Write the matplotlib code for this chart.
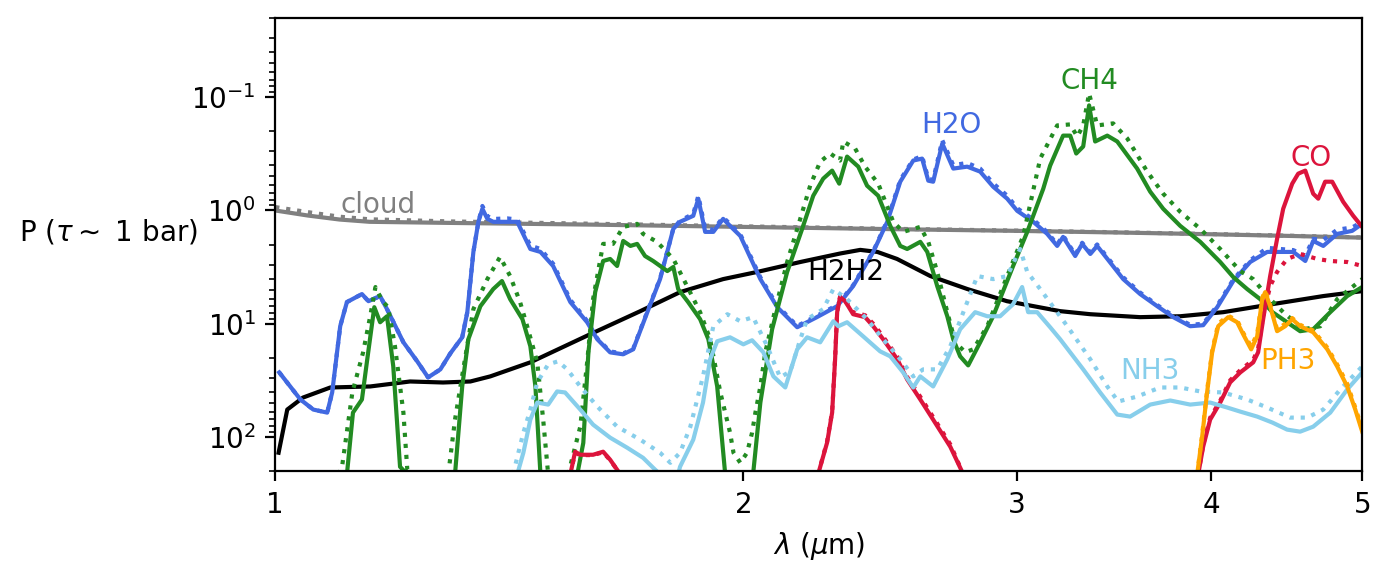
import numpy as np
import matplotlib
matplotlib.use("Agg")
import matplotlib.pyplot as plt
from matplotlib.ticker import FixedLocator, FixedFormatter, NullLocator

nan = np.nan

# wavelengths in micron, pressures as log10(P / bar)
h2o_wl = [1.006, 1.038, 1.058, 1.080, 1.088, 1.101, 1.112, 1.137, 1.148, 1.168,
          1.180, 1.209, 1.234, 1.254, 1.277, 1.296, 1.319, 1.329, 1.341, 1.351,
          1.359, 1.369, 1.381, 1.410, 1.431, 1.459, 1.481, 1.509, 1.548, 1.587,
          1.611, 1.642, 1.674, 1.699, 1.735, 1.768, 1.803, 1.821, 1.857, 1.871,
          1.890, 1.913, 1.941, 1.961, 1.991, 2.051, 2.103, 2.166, 2.230, 2.298,
          2.353, 2.424, 2.475, 2.523, 2.572, 2.606, 2.630, 2.649, 2.685, 2.729,
          2.786, 2.840, 2.895, 2.956, 3.000, 3.072, 3.136, 3.183, 3.211, 3.269,
          3.303, 3.343, 3.377, 3.510, 3.599, 3.691, 3.780, 3.876, 3.951, 4.034,
          4.131, 4.236, 4.344, 4.515, 4.596, 4.650, 4.720, 4.818, 4.926, 5.0]
h2o_a = [1.430, 1.669, 1.758, 1.785, 1.607, 1.022, 0.809, 0.738, 0.801, 0.756,
         0.871, 1.164, 1.332, 1.474, 1.403, 1.262, 1.120, 0.898, 0.366, 0.100,
         -0.015, 0.074, 0.100, 0.100, 0.100, 0.340, 0.366, 0.490, 0.809, 0.987,
         1.137, 1.253, 1.270, 1.226, 0.898, 0.606, 0.162, 0.100, 0.047, -0.104,
         0.189, 0.189, 0.074, 0.136, 0.225, 0.606, 0.854, 1.031, 0.942, 0.845,
         0.668, 0.366, 0.100, -0.254, -0.441, -0.458, -0.263, -0.254, -0.591, -0.370,
         -0.387, -0.343, -0.210, -0.104, 0.003, 0.100, 0.206, 0.313, 0.233, 0.402,
         0.295, 0.384, 0.313, 0.606, 0.738, 0.845, 0.942, 1.022, 1.013, 0.854,
         0.623, 0.455, 0.366, 0.366, 0.446, 0.269, 0.313, 0.207, 0.180, 0.118]
h2o_b = [1.430, 1.669, 1.758, 1.785, 1.607, 1.022, 0.809, 0.738, 0.801, 0.756,
         0.871, 1.164, 1.332, 1.474, 1.403, 1.262, 1.120, 0.898, 0.366, 0.100,
         -0.04, 0.05, 0.075, 0.07, 0.08, 0.31, 0.34, 0.47, 0.79, 0.975,
         1.13, 1.245, 1.262, 1.22, 0.89, 0.60, 0.16, 0.09, 0.03, -0.13,
         0.16, 0.17, 0.06, 0.12, 0.21, 0.59, 0.84, 1.02, 0.93, 0.835,
         0.66, 0.36, 0.09, -0.27, -0.45, -0.48, -0.28, -0.27, -0.62, -0.40,
         -0.42, -0.37, -0.24, -0.13, -0.02, 0.08, 0.19, 0.30, 0.22, 0.39,
         0.285, 0.37, 0.30, 0.59, 0.725, 0.835, 0.93, 1.01, 1.00, 0.84,
         0.61, 0.44, 0.33, 0.35, 0.40, 0.25, 0.26, 0.17, 0.15, 0.10]

ch4_wl_a = [1.112, 1.122, 1.137, 1.146, 1.158, 1.168, 1.180, 1.191, 1.203, 1.216,
            1.26, 1.305, 1.319, 1.331, 1.355, 1.381, 1.399, 1.416, 1.442, 1.459,
            1.470, 1.481, 1.52, 1.564, 1.578, 1.590, 1.606, 1.625, 1.642, 1.659,
            1.674, 1.692, 1.709, 1.729, 1.750, 1.787, 1.803, 1.816, 1.843, 1.876,
            1.899, 1.924, 1.947, 1.99, 2.029, 2.051, 2.087, 2.134, 2.182, 2.218,
            2.251, 2.281, 2.305, 2.332, 2.371, 2.402, 2.442, 2.486, 2.523, 2.549,
            2.599, 2.626, 2.665, 2.705, 2.729, 2.757, 2.790, 2.840, 2.895, 2.982,
            3.045, 3.118, 3.150, 3.211, 3.245, 3.274, 3.308, 3.337, 3.367, 3.428,
            3.479, 3.583, 3.653, 3.724, 3.819, 3.934, 4.052, 4.131, 4.217, 4.299,
            4.378, 4.474, 4.561, 4.650, 4.769, 4.890, 5.0]
ch4_a = [2.33, 1.785, 1.669, 1.314, 0.854, 0.987, 0.934, 1.377, 2.263, 2.33,
         nan, 2.33, 1.554, 1.137, 0.845, 0.694, 0.623, 0.783, 0.960, 1.199,
         1.554, 2.33, nan, 2.33, 2.052, 1.252, 0.721, 0.446, 0.428, 0.490,
         0.269, 0.313, 0.295, 0.402, 0.446, 0.535, 0.499, 0.694, 0.809, 0.960,
         1.137, 1.554, 2.33, nan, 2.33, 1.696, 1.049, 0.543, 0.162, -0.130,
         -0.281, -0.352, -0.237, -0.476, -0.387, -0.219, -0.130, 0.136, 0.313, 0.340,
         0.277, 0.366, 0.668, 0.934, 1.137, 1.288, 1.368, 1.164, 0.934, 0.490,
         0.189, -0.192, -0.396, -0.661, -0.661, -0.503, -0.565, -0.928, -0.609, -0.661,
         -0.609, -0.370, -0.166, -0.015, 0.136, 0.277, 0.455, 0.588, 0.694, 0.783,
         0.898, 0.987, 1.066, 1.049, 0.898, 0.756, 0.676]

ch4_wl_b = [1.098, 1.104, 1.121, 1.139, 1.151, 1.160, 1.172, 1.182, 1.194, 1.209,
            1.216, 1.222, 1.26, 1.292, 1.305, 1.321, 1.341, 1.369, 1.395, 1.416,
            1.437, 1.454, 1.474, 1.487, 1.498, 1.52, 1.543, 1.571, 1.587, 1.601,
            1.625, 1.649, 1.674, 1.709, 1.724, 1.760, 1.803, 1.840, 1.876, 1.904,
            1.933, 1.961, 1.971, 1.991, 2.011, 2.026, 2.036, 2.051, 2.066, 2.097,
            2.134, 2.169, 2.208, 2.241, 2.275, 2.308, 2.319, 2.360, 2.395, 2.442,
            2.497, 2.534, 2.599, 2.630, 2.665, 2.705, 2.737, 2.778, 2.811, 2.870,
            2.956, 3.027, 3.104, 3.183, 3.245, 3.279, 3.308, 3.337, 3.377, 3.458,
            3.531, 3.637, 3.724, 3.819, 3.934, 4.052, 4.174, 4.255, 4.344, 4.448,
            4.582, 4.699, 4.818, 5.0]
ch4_b = [2.33, 2.263, 1.607, 1.252, 0.934, 0.676, 0.801, 0.854, 1.199, 1.785,
         2.290, 2.33, nan, 2.33, 1.847, 1.403, 0.871, 0.606, 0.410, 0.579,
         0.809, 1.049, 1.341, 1.847, 2.33, nan, 2.33, 1.908, 1.341, 0.783,
         0.295, 0.295, 0.145, 0.118, 0.207, 0.277, 0.428, 0.668, 0.898, 1.137,
         1.607, 1.962, 2.139, 2.228, 2.139, 1.962, 1.785, 1.554, 1.252, 0.871,
         0.455, 0.136, -0.219, -0.431, -0.503, -0.441, -0.609, -0.547, -0.387, -0.237,
         0.100, 0.189, 0.145, 0.277, 0.543, 0.898, 1.164, 1.252, 1.226, 1.022,
         0.579, 0.224, -0.458, -0.751, -0.760, -0.653, -0.751, -1.034, -0.751, -0.769,
         -0.636, -0.343, -0.148, 0.012, 0.162, 0.340, 0.535, 0.606, 0.756, 0.898,
         1.049, 1.022, 0.783, 0.606]

co_wl_a = [1.548, 1.559, 1.571, 1.601, 1.625, 1.642, 1.667, 1.9, 2.234, 2.264,
           2.281, 2.291, 2.298, 2.308, 2.325, 2.336, 2.353, 2.395, 2.424, 2.460,
           2.512, 2.549, 2.599, 2.649, 2.717, 2.770, 3.5, 3.922, 3.951, 3.992,
           4.052, 4.112, 4.174, 4.255, 4.286, 4.318, 4.363, 4.408, 4.448, 4.508,
           4.548, 4.596, 4.650, 4.685, 4.733, 4.783, 4.861, 4.934, 5.0]
co_a = [2.33, 2.130, 2.157, 2.157, 2.130, 2.201, 2.33, nan, 2.33, 2.050,
        1.785, 1.314, 0.898, 0.765, 0.801, 0.845, 0.916, 0.942, 1.022, 1.137,
        1.314, 1.492, 1.669, 1.847, 2.086, 2.33, nan, 2.33, 2.086, 1.847,
        1.696, 1.518, 1.430, 1.341, 1.252, 0.960, 0.579, 0.251, -0.015, -0.237,
        -0.325, -0.352, -0.148, -0.104, -0.254, -0.254, -0.077, 0.047, 0.145]
co_wl_b = [1.548, 1.559, 1.571, 1.601, 1.625, 1.642, 1.667, 1.9, 2.234, 2.264,
           2.281, 2.291, 2.298, 2.308, 2.325, 2.336, 2.353, 2.395, 2.424, 2.460,
           2.512, 2.549, 2.599, 2.649, 2.717, 2.770, 3.5, 3.922, 3.951, 3.992,
           4.052, 4.112, 4.174, 4.255, 4.286, 4.318, 4.363, 4.408, 4.474, 4.561,
           4.678, 4.769, 4.890, 5.0]
co_b = [2.33, 2.140, 2.160, 2.160, 2.135, 2.205, 2.33, nan, 2.33, 2.040,
        1.775, 1.305, 0.890, 0.760, 0.795, 0.835, 0.900, 0.925, 1.000, 1.115,
        1.290, 1.470, 1.645, 1.825, 2.065, 2.33, nan, 2.33, 2.07, 1.83,
        1.68, 1.50, 1.41, 1.32, 1.22, 0.93, 0.668, 0.543, 0.428, 0.384,
        0.428, 0.446, 0.455, 0.490]

nh3_wl_a = [1.431, 1.444, 1.459, 1.474, 1.498, 1.518, 1.536, 1.571, 1.601, 1.642,
            1.684, 1.724, 1.750, 1.768, 1.790, 1.816, 1.821, 1.857, 1.884, 1.904,
            1.924, 1.961, 2.000, 2.026, 2.060, 2.091, 2.128, 2.166, 2.198, 2.241,
            2.285, 2.302, 2.332, 2.388, 2.449, 2.486, 2.534, 2.572, 2.599, 2.649,
            2.705, 2.757, 2.819, 2.870, 2.925, 2.982, 3.022, 3.049, 3.090, 3.150,
            3.197, 3.308, 3.392, 3.479, 3.546, 3.653, 3.763, 3.876, 3.992, 4.094,
            4.174, 4.280, 4.378, 4.474, 4.561, 4.650, 4.769, 4.890, 5.0]
nh3_a = [2.33, 2.139, 1.847, 1.696, 1.714, 1.598, 1.607, 1.758, 1.891, 2.006,
         2.095, 2.184, 2.272, 2.33, nan, 2.33, 2.263, 2.024, 1.696, 1.314,
         1.155, 1.120, 1.182, 1.146, 1.252, 1.465, 1.563, 1.226, 1.120, 1.164,
         0.978, 1.022, 0.987, 1.111, 1.244, 1.288, 1.430, 1.563, 1.465, 1.554,
         1.314, 1.049, 0.898, 0.934, 0.934, 0.827, 0.676, 0.898, 0.898, 1.031,
         1.137, 1.403, 1.607, 1.802, 1.820, 1.714, 1.678, 1.714, 1.696, 1.740,
         1.776, 1.820, 1.873, 1.935, 1.953, 1.909, 1.785, 1.581, 1.430]
nh3_wl_b = [1.422, 1.444, 1.459, 1.474, 1.498, 1.520, 1.541, 1.571, 1.611, 1.659,
            1.717, 1.768, 1.795, 1.821, 1.849, 1.884, 1.913, 1.953, 1.991, 2.029,
            2.072, 2.112, 2.144, 2.176, 2.198, 2.251, 2.285, 2.332, 2.402, 2.460,
            2.523, 2.572, 2.610, 2.665, 2.717, 2.770, 2.828, 2.895, 2.956, 3.013,
            3.045, 3.104, 3.231, 3.343, 3.428, 3.484, 3.583, 3.707, 3.819, 3.934,
            4.070, 4.217, 4.344, 4.494, 4.609, 4.720, 4.840, 5.0]
nh3_b = [2.33, 1.962, 1.758, 1.518, 1.359, 1.332, 1.403, 1.554, 1.731, 1.909,
         2.024, 2.139, 2.228, 2.139, 1.909, 1.465, 1.022, 0.916, 0.978, 0.942,
         1.199, 1.474, 1.420, 1.137, 0.960, 0.871, 0.694, 0.783, 0.960, 1.137,
         1.314, 1.465, 1.403, 1.403, 1.199, 0.898, 0.579, 0.606, 0.579, 0.340,
         0.543, 0.694, 1.022, 1.314, 1.554, 1.687, 1.643, 1.563, 1.563, 1.598,
         1.607, 1.669, 1.740, 1.829, 1.829, 1.758, 1.581, 1.377]

ph3_wl = [3.916, 3.945, 3.974, 4.004, 4.040, 4.100, 4.155, 4.192, 4.242, 4.280,
          4.312, 4.331, 4.363, 4.408, 4.461, 4.508, 4.561, 4.650, 4.748, 4.818,
          4.890, 4.949, 5.0]
ph3_a = [2.33, 1.998, 1.607, 1.252, 1.022, 0.942, 0.987, 1.093, 1.226, 1.111,
         0.783, 0.721, 0.845, 1.066, 1.022, 0.960, 1.022, 1.075, 1.226, 1.377,
         1.554, 1.758, 1.953]
ph3_b = [2.33, 1.98, 1.59, 1.24, 1.00, 0.93, 0.97, 1.08, 1.20, 1.09,
         0.77, 0.71, 0.83, 1.05, 1.00, 0.95, 1.01, 1.06, 1.21, 1.36,
         1.53, 1.74, 1.93]

h2h2_wl = [1.005, 1.018, 1.042, 1.085, 1.151, 1.221, 1.282, 1.335, 1.375, 1.459,
           1.594, 1.717, 1.821, 1.941, 2.041, 2.176, 2.308, 2.378, 2.439, 2.511,
           2.638, 2.787, 2.955, 3.197, 3.343, 3.599, 3.819, 4.070, 4.378, 4.719, 5.0]
h2h2 = [2.139, 1.758, 1.652, 1.563, 1.554, 1.510, 1.519, 1.510, 1.465, 1.341,
        1.093, 0.889, 0.721, 0.606, 0.543, 0.455, 0.38, 0.348, 0.366, 0.428,
        0.579, 0.694, 0.801, 0.889, 0.916, 0.942, 0.934, 0.898, 0.827, 0.756, 0.712]

cloud_wl = [1.0, 1.05, 1.1, 1.15, 1.3, 1.6, 2.0, 2.5, 3.0, 3.5, 4.0, 4.5, 5.0]
cloud_a = [0.0, 0.045, 0.08, 0.10, 0.11, 0.125, 0.145, 0.165, 0.18, 0.195, 0.21, 0.225, 0.24]
cloud_b = [-0.03, 0.015, 0.055, 0.078, 0.097, 0.117, 0.14, 0.162, 0.178, 0.193, 0.208, 0.223, 0.238]


def P(v):
    return 10 ** np.array(v, dtype=float)


fig, ax = plt.subplots(figsize=(6.95, 2.915), dpi=200)
fig.subplots_adjust(left=0.198, right=0.98, top=0.969, bottom=0.192)

ax.plot(cloud_wl, P(cloud_a), color='grey', lw=1.5)
ax.plot(cloud_wl, P(cloud_b), color='grey', lw=1.5, ls=':')
ax.plot(h2h2_wl, P(h2h2), color='black', lw=1.5)

curves = [
    (h2o_wl, h2o_a, h2o_wl, h2o_b, 'royalblue'),
    (ch4_wl_a, ch4_a, ch4_wl_b, ch4_b, 'forestgreen'),
    (co_wl_a, co_a, co_wl_b, co_b, 'crimson'),
    (nh3_wl_a, nh3_a, nh3_wl_b, nh3_b, 'skyblue'),
    (ph3_wl, ph3_a, ph3_wl, ph3_b, 'orange'),
]
for wa, pa, wb, pb, col in curves:
    ax.plot(wa, P(pa), color=col, lw=1.5)
    ax.plot(wb, P(pb), color=col, lw=1.5, ls=':')

# species names sit next to their bands
labels = [('cloud', 1.165, -0.05, 'grey'),
          ('H2O', 2.721, -0.755, 'royalblue'),
          ('H2H2', 2.329, 0.545, 'black'),
          ('CH4', 3.337, -1.145, 'forestgreen'),
          ('CO', 4.637, -0.46, 'crimson'),
          ('PH3', 4.481, 1.33, 'orange'),
          ('NH3', 3.653, 1.42, 'skyblue')]
for txt, lx, ly, col in labels:
    ax.text(lx, 10 ** ly, txt, color=col, ha='center', va='center', fontsize=10)

ax.set_xscale('log')
ax.set_yscale('log')
ax.set_xlim(1, 5)
ax.set_ylim(200, 0.02)
ax.xaxis.set_major_locator(FixedLocator([1, 2, 3, 4, 5]))
ax.xaxis.set_major_formatter(FixedFormatter(['1', '2', '3', '4', '5']))
ax.xaxis.set_minor_locator(NullLocator())

ax.set_xlabel(r'$\lambda$ ($\mu$m)')
ax.set_ylabel(r'P ($\tau\sim$ 1 bar)', rotation=0, ha='right', va='center')
ax.yaxis.set_label_coords(-0.071, 0.528)

fig.savefig('out.png', dpi=200)
